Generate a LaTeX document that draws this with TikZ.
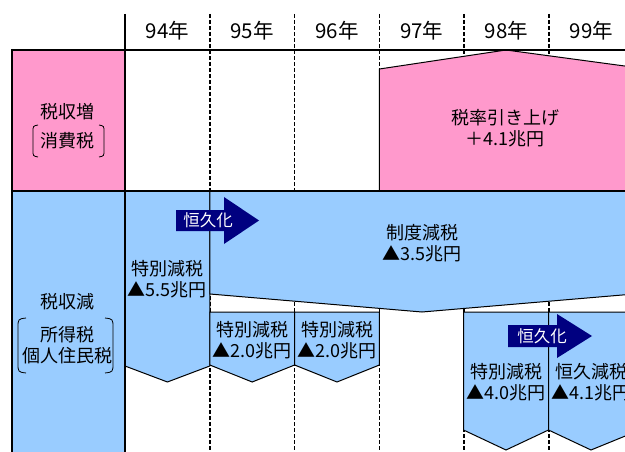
\documentclass[tikz,border=0pt]{standalone}
\usepackage{fontspec}
\setmainfont{Noto Sans CJK JP}
\definecolor{pinkf}{HTML}{FF99CC}
\definecolor{bluef}{HTML}{99CCFF}
\definecolor{navyf}{HTML}{000080}
\begin{document}
\begin{tikzpicture}[x=1pt,y=-1pt,
  shapebox/.style={draw=black,line width=1pt},
  gridd/.style={draw=black,line width=1.6pt,dash pattern=on 4pt off 2pt},
  thick line/.style={draw=black,line width=2pt},
  lbl/.style={inner sep=0pt,align=center,font=\fontsize{18}{21}\selectfont},
  yr/.style={inner sep=0pt,font=\fontsize{20.5}{22}\selectfont},
  arrowtxt/.style={inner sep=0pt,text=white,font=\fontsize{16.5}{18}\selectfont},
  bracket/.style={draw=black,line width=0.8pt}]
\useasboundingbox (0,0) rectangle (625,452);
\fill[white] (0,0) rectangle (625,452);
% dashed column lines
\foreach \x in {209.8,294.6,379.4,464.2,549} \draw[gridd] (\x,14) -- (\x,452);
% left label boxes
\filldraw[fill=pinkf,shapebox] (12,50) rectangle (125,191);
\filldraw[fill=bluef,shapebox] (12,191) rectangle (125,460);
% pink increase shape
\filldraw[fill=pinkf,shapebox] (379.4,191) -- (379.4,69) -- (506,50) -- (632,67) -- (632,191) -- cycle;
% blue shapes
\filldraw[fill=bluef,shapebox] (125,191) -- (209.8,191) -- (209.8,366) -- (167.4,382) -- (125,366) -- cycle;
\filldraw[fill=bluef,shapebox] (209.8,191) -- (640,191) -- (640,293.5) -- (422,312) -- (209.8,294) -- cycle;
\filldraw[fill=bluef,shapebox] (209.8,312) -- (294.6,312) -- (294.6,365) -- (252.2,382) -- (209.8,365) -- cycle;
\filldraw[fill=bluef,shapebox] (294.6,312) -- (379.4,312) -- (379.4,365) -- (337,382) -- (294.6,365) -- cycle;
\filldraw[fill=bluef,shapebox] (463.5,312) -- (548.5,312) -- (548.5,430) -- (506,450) -- (463.5,430) -- cycle;
\filldraw[fill=bluef,shapebox] (548.5,312) -- (640,312) -- (640,430) -- (591,450) -- (548.5,430) -- cycle;
% frame lines
\draw[thick line] (125,14) -- (125,452);
\draw[thick line] (12,50) -- (640,50);
\draw[thick line] (12,49) -- (12,460);
\draw[line width=1.4pt] (12,191) -- (640,191);
% year labels
\node[yr] (y94) at (167.4,31) {94年};
\node[yr] (y95) at (252.2,31) {95年};
\node[yr] (y96) at (337,31) {96年};
\node[yr] (y97) at (421.8,31) {97年};
\node[yr] (y98) at (506.6,31) {98年};
\node[yr] (y99) at (591.4,31) {99年};
% left labels
\node[lbl] (inc) at (68,112) {税収増};
\node[lbl] (incsub) at (68,141) {消費税};
\draw[bracket] (38,125) .. controls (33,126) .. (33,132) -- (33,150) .. controls (33,156) .. (38,157);
\draw[bracket] (99,125) .. controls (104,126) .. (104,132) -- (104,150) .. controls (104,156) .. (99,157);
\node[lbl] (dec) at (68,302) {税収減};
\node[lbl] (decsub) at (68,345) {所得税\\個人住民税};
\draw[bracket] (26,318) .. controls (18,319) .. (18,328) -- (18,363) .. controls (18,372) .. (26,373);
\draw[bracket] (105,318) .. controls (113,319) .. (113,328) -- (113,363) .. controls (113,372) .. (105,373);
% shape labels
\node[lbl] (rate) at (505,128) {税率引き上げ\\＋4.1兆円};
\node[lbl] (s55) at (167.4,279) {特別減税\\▲5.5兆円};
\node[lbl] (sys) at (422,243) {制度減税\\▲3.5兆円};
\node[lbl] (s20a) at (252.2,340.5) {特別減税\\▲2.0兆円};
\node[lbl] (s20b) at (337,340.5) {特別減税\\▲2.0兆円};
\node[lbl] (s40) at (506,382) {特別減税\\▲4.0兆円};
\node[lbl] (p41) at (591,382) {恒久減税\\▲4.1兆円};
% navy arrows
\fill[navyf] (176,210) -- (224,210) -- (224,197) -- (259,220.5) -- (224,244) -- (224,231) -- (176,231) -- cycle;
\node[arrowtxt] (perm1) at (208,220.5) {恒久化};
\fill[navyf] (508,325) -- (557,325) -- (557,314) -- (592,336) -- (557,358) -- (557,347) -- (508,347) -- cycle;
\node[arrowtxt] (perm2) at (542,336) {恒久化};
\end{tikzpicture}
\end{document}
